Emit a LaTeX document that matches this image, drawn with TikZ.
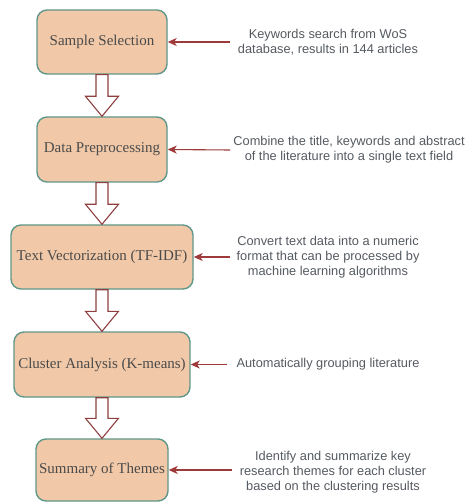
\documentclass[tikz,border=0pt]{standalone}
\usepackage{fontspec}
\setmainfont{Liberation Serif}
\newfontfamily\notefont{Liberation Sans}
\usetikzlibrary{arrows.meta,calc}
\definecolor{boxfill}{HTML}{F2C9A8}
\definecolor{boxline}{HTML}{5F978A}
\definecolor{boxtext}{HTML}{4A4A4A}
\definecolor{notetext}{HTML}{555A60}
\definecolor{arrred}{HTML}{9E3A3A}
\definecolor{blkred}{HTML}{8E3F3F}
\tikzset{
  stagebox/.style={draw=boxline, fill=boxfill, line width=1.4pt, rounded corners=10pt,
    inner sep=0pt, minimum height=64pt, text=boxtext, font=\fontsize{15}{18}\selectfont},
  notetxt/.style={align=center, text=notetext, inner sep=0pt, font=\notefont\fontsize{12.8}{15}\selectfont},
  feedarrow/.style={draw=arrred, line width=1.1pt, -{Stealth[length=9pt,width=8pt,inset=2.5pt]}},
  blk/.style={draw=blkred, fill=white, line width=1.1pt, line join=miter},
}
\newcommand\blkarrow[2]{%
  \draw[blk] ($(#1.south)+(-6,0)$) -- ($(#2.north)+(-6,-20)$) -- ($(#2.north)+(-16.5,-20)$)
    -- (#2.north) -- ($(#2.north)+(16.5,-20)$) -- ($(#2.north)+(6,-20)$)
    -- ($(#1.south)+(6,0)$) -- cycle;}
\begin{document}
\begin{tikzpicture}[x=1pt,y=-1pt]
\useasboundingbox (0,0) rectangle (465,502);
\clip (0,0) rectangle (465,502);
\node[stagebox, minimum width=130pt, minimum height=64pt] (b1) at (102,42) {Sample Selection};
\node[stagebox, minimum width=130pt, minimum height=65pt] (b2) at (102,149.5) {Data Preprocessing};
\node[stagebox, minimum width=182pt, minimum height=64pt] (b3) at (102,257) {Text Vectorization (TF-IDF)};
\node[stagebox, minimum width=176pt, minimum height=65pt] (b4) at (102,364.5) {Cluster Analysis (K-means)};
\node[stagebox, minimum width=132pt, minimum height=62pt] (b5) at (102,470) {Summary of Themes};

\blkarrow{b1}{b2}
\blkarrow{b2}{b3}
\blkarrow{b3}{b4}
\blkarrow{b4}{b5}

\node[notetxt] (t1) at (328,42) {Keywords search from WoS\\database, results in 144 articles};
\node[notetxt] (t2) at (349,150) {Combine the title, keywords and abstract\\of the literature into a single text field};
\node[notetxt] (t3) at (328,257) {Convert text data into a numeric\\format that can be processed by\\machine learning algorithms};
\node[notetxt] (t4) at (328,364) {Automatically grouping literature};
\node[notetxt] (t5) at (333,472) {Identify and summarize key\\research themes for each cluster\\based on the clustering results};

\coordinate (s1) at (230,42);
\coordinate (s2) at (230,150);
\coordinate (s3) at (230,257);
\coordinate (s4) at (227,364.5);
\coordinate (s5) at (232,470);
\draw[feedarrow] (s1) -- (b1.east);
\draw[feedarrow] (s2) -- (b2.east);
\draw[feedarrow] (s3) -- (b3.east);
\draw[feedarrow] (s4) -- (b4.east);
\draw[feedarrow] (s5) -- (b5.east);
\end{tikzpicture}
\end{document}
